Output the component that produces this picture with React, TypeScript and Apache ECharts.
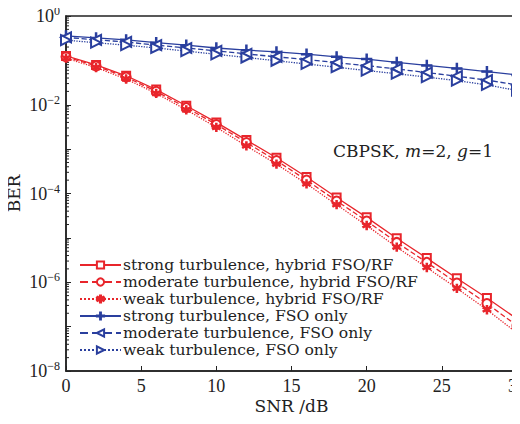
import React, { useEffect, useRef } from "react";
import * as echarts from "echarts";

const snr = [0, 2, 4, 6, 8, 10, 12, 14, 16, 18, 20, 22, 24, 26, 28, 30];

const redStrong = [0.126, 0.079, 0.045, 0.022, 0.0095, 0.004, 0.0016, 6.4e-4, 2.35e-4, 8.1e-5, 2.9e-5, 9.8e-6, 3.5e-6, 1.23e-6, 4.4e-7, 1.5e-7];
const redModerate = [0.12, 0.075, 0.042, 0.02, 0.0086, 0.0036, 0.0014, 5.5e-4, 2.0e-4, 6.8e-5, 2.4e-5, 7.9e-6, 2.8e-6, 9.6e-7, 3.3e-7, 1.05e-7];
const redWeak = [0.112, 0.069, 0.038, 0.018, 0.0077, 0.0031, 0.00118, 4.6e-4, 1.65e-4, 5.6e-5, 1.9e-5, 6.2e-6, 2.15e-6, 7.3e-7, 2.4e-7, 7.2e-8];

const blueStrong = [0.355, 0.32, 0.29, 0.25, 0.22, 0.19, 0.17, 0.155, 0.138, 0.12, 0.107, 0.09, 0.077, 0.066, 0.056, 0.047];
const blueModerate = [0.33, 0.29, 0.26, 0.22, 0.19, 0.163, 0.14, 0.12, 0.104, 0.089, 0.076, 0.064, 0.053, 0.044, 0.036, 0.028];
const blueWeak = [0.285, 0.25, 0.22, 0.19, 0.162, 0.137, 0.116, 0.098, 0.083, 0.07, 0.059, 0.05, 0.042, 0.035, 0.028, 0.021];

const legendNames = [
  "strong turbulence, hybrid FSO/RF",
  "moderate turbulence, hybrid FSO/RF",
  "weak turbulence, hybrid FSO/RF",
  "strong turbulence, FSO only",
  "moderate turbulence, FSO only",
  "weak turbulence, FSO only",
];

const minorDecades = [-8, -7, -6, -5, -4, -3, -2, -1];
const minorMultipliers = [2, 3, 4, 5, 6, 7, 8, 9];

const RED = "#e8252b";
const BLUE = "#2a3f9e";
const FONT = "'DejaVu Serif', 'Liberation Serif', serif";
const NUMFONT = "'Liberation Serif', 'DejaVu Serif', serif";

const PLUS = "path://M4.4,0 L5.6,0 L5.6,4.4 L10,4.4 L10,5.6 L5.6,5.6 L5.6,10 L4.4,10 L4.4,5.6 L0,5.6 L0,4.4 L4.4,4.4 Z";
const STAR = "path://M4.3,0 L5.7,0 L5.7,3.6 L8.8,1.8 L9.5,3 L6.4,4.8 L9.5,6.6 L8.8,7.8 L5.7,6 L5.7,10 L4.3,10 L4.3,6 L1.2,7.8 L0.5,6.6 L3.6,4.8 L0.5,3 L1.2,1.8 L4.3,3.6 Z";

function toPairs(vals: number[]) {
  return snr.map((x, i) => [x, vals[i]]);
}

export default function App() {
  const ref = useRef<HTMLDivElement>(null);
  useEffect(() => {
    if (!ref.current) return;
    const chart = echarts.init(ref.current, undefined, { renderer: "svg" });

    const minorData: number[][] = [];
    minorDecades.forEach((e) => minorMultipliers.forEach((m) => minorData.push([0, m * Math.pow(10, e)])));

    const mk = (name: string, vals: number[], color: string, type: string, symbol: string, size: number, rotate = 0) => ({
      name,
      type: "line",
      data: toPairs(vals),
      symbol,
      symbolSize: size,
      symbolRotate: rotate,
      showAllSymbol: true,
      lineStyle: { color, width: 1.3, type },
      itemStyle: { color, borderColor: color, borderWidth: 1.3 },
      z: 3,
    });

    chart.setOption({
      animation: false,
      backgroundColor: "#ffffff",
      grid: {
        left: 66, right: 3, top: 16, bottom: 53,
        outerBoundsMode: "none",
        containLabel: false,
        show: true, borderColor: "#222", borderWidth: 1.5, backgroundColor: "transparent",
      },
      xAxis: {
        type: "value",
        min: 0,
        max: 30,
        interval: 5,
        name: "SNR /dB",
        nameLocation: "middle",
        nameGap: 26,
        nameMoveOverlap: false,
        nameTextStyle: { fontFamily: FONT, fontSize: 17, color: "#222" },
        axisLine: { show: true, lineStyle: { color: "#222", width: 1.5 } },
        axisTick: { show: true, inside: true, length: 5, lineStyle: { color: "#222" } },
        axisLabel: { fontFamily: NUMFONT, fontSize: 18, color: "#222", margin: 6 },
        splitLine: { show: false },
      },
      yAxis: {
        type: "log",
        logBase: 10,
        min: 1e-8,
        max: 1,
        splitNumber: 8,
        name: "BER",
        nameLocation: "middle",
        nameGap: 44,
        nameMoveOverlap: false,
        nameRotate: 90,
        nameTextStyle: { fontFamily: FONT, fontSize: 17, color: "#222" },
        axisLine: { show: true, lineStyle: { color: "#222", width: 1.5 } },
        axisTick: { show: true, inside: true, length: 5, lineStyle: { color: "#222" } },
        axisLabel: {
          fontFamily: NUMFONT,
          fontSize: 18,
          color: "#222",
          margin: 6,
          formatter: (v: number) => {
            const e = Math.round(Math.log10(v));
            if (e % 2 !== 0) return "";
            return "10{sup|" + (e < 0 ? "\u2212" + -e : String(e)) + "}";
          },
          rich: {
            sup: { fontFamily: NUMFONT, fontSize: 12, verticalAlign: "bottom", padding: [0, 0, 10, 0], color: "#222" },
          },
        },
        splitLine: { show: false },
      },
      legend: {
        orient: "vertical",
        left: 79,
        top: 257,
        itemWidth: 41,
        itemHeight: 9,
        itemGap: 1,
        padding: 0,
        textStyle: { fontFamily: FONT, fontSize: 15.6, lineHeight: 16, color: "#222", padding: [0, 0, 0, -3] },
        data: legendNames,
      },
      graphic: [
        {
          type: "text",
          left: 333,
          top: 142,
          style: {
            text: "CBPSK, {i|m}=2, {i|g}=1",
            fontFamily: FONT,
            fontSize: 17,
            fill: "#222",
            rich: { i: { fontFamily: FONT, fontSize: 17, fontStyle: "italic", fill: "#222" } },
          },
        },
      ],
      series: [
        mk(legendNames[0], redStrong, RED, "solid", "emptyRect", 8),
        mk(legendNames[1], redModerate, RED, "dashed", "emptyCircle", 9),
        mk(legendNames[2], redWeak, RED, "dotted", STAR, 8),
        mk(legendNames[3], blueStrong, BLUE, "solid", PLUS, 10),
        mk(legendNames[4], blueModerate, BLUE, "dashed", "emptyTriangle", 10, 90),
        mk(legendNames[5], blueWeak, BLUE, "dotted", "emptyTriangle", 10, -90),
        {
          type: "custom",
          silent: true,
          data: minorData,
          z: 2,
          renderItem: (params: any, api: any) => {
            const p = api.coord([api.value(0), api.value(1)]);
            return {
              type: "line",
              shape: { x1: p[0], y1: p[1], x2: p[0] + 3, y2: p[1] },
              style: { stroke: "#222", lineWidth: 1 },
            };
          },
        },
      ],
    });
    return () => chart.dispose();
  }, []);
  return <div ref={ref} style={{ width: 520, height: 424, margin: -8 }} />;
}
